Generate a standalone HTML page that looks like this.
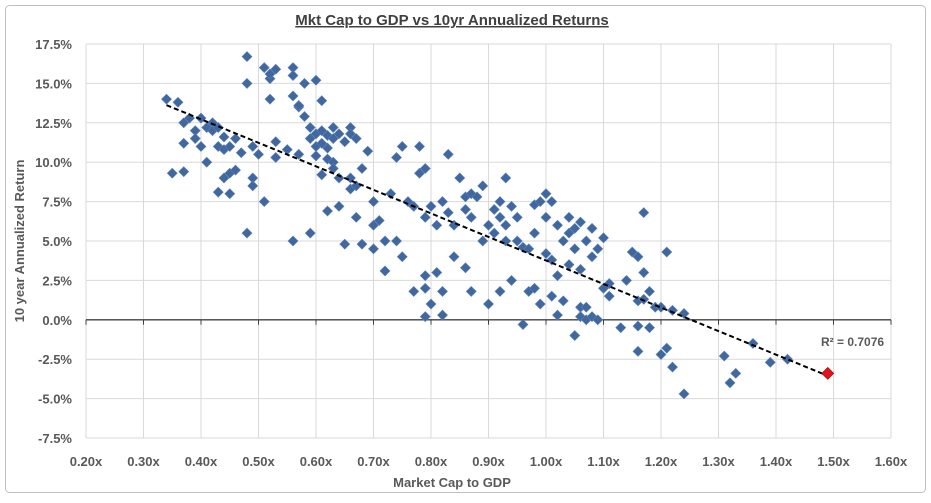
<!DOCTYPE html>
<html><head><meta charset="utf-8"><style>
body{margin:0;background:#fff;width:931px;height:498px;overflow:hidden;font-family:"Liberation Sans",sans-serif}
</style></head><body>
<svg width="931" height="498" xmlns="http://www.w3.org/2000/svg">
<rect x="5.5" y="5.5" width="920" height="487" rx="4" fill="#fff" stroke="#bfbfbf"/>
<text x="452" y="25" text-anchor="middle" font-size="15" font-weight="bold" fill="#404040" text-decoration="underline">Mkt Cap to GDP vs 10yr Annualized Returns</text>
<g id="grid"></g><g id="axes"></g><g id="pts"></g>
<text x="452" y="487" text-anchor="middle" font-size="13" font-weight="bold" fill="#595959">Market Cap to GDP</text>
<text transform="translate(24,241) rotate(-90)" text-anchor="middle" font-size="13" font-weight="bold" fill="#595959">10 year Annualized Return</text>
<text x="821" y="346" font-size="12" font-weight="bold" fill="#595959">R² = 0.7076</text>
</svg>
<script>
const xTicks=[0.2,0.3,0.4,0.5,0.6,0.7,0.8,0.9,1.0,1.1,1.2,1.3,1.4,1.5,1.6];
const yTicks=[17.5,15,12.5,10,7.5,5,2.5,0,-2.5,-5,-7.5];
const xVals=[0.34,0.36,0.35,0.37,0.37,0.38,0.37,0.39,0.39,0.40,0.40,0.41,0.41,0.42,0.42,0.43,0.43,0.44,0.44,0.45,0.45,0.43,0.44,0.45,0.46,0.46,0.47,0.48,0.48,0.48,0.49,0.49,0.49,0.50,0.51,0.51,0.52,0.52,0.52,0.53,0.53,0.53,0.55,0.56,0.56,0.56,0.56,0.57,0.57,0.57,0.58,0.58,0.59,0.59,0.59,0.60,0.60,0.60,0.60,0.61,0.61,0.61,0.61,0.62,0.62,0.62,0.63,0.63,0.63,0.63,0.62,0.64,0.64,0.64,0.65,0.65,0.66,0.66,0.66,0.66,0.67,0.67,0.67,0.68,0.68,0.69,0.70,0.70,0.70,0.71,0.72,0.72,0.73,0.74,0.74,0.75,0.75,0.76,0.77,0.77,0.78,0.78,0.79,0.79,0.79,0.79,0.79,0.80,0.80,0.81,0.81,0.82,0.82,0.82,0.83,0.83,0.84,0.84,0.85,0.86,0.86,0.86,0.87,0.87,0.87,0.88,0.89,0.89,0.90,0.90,0.91,0.91,0.92,0.92,0.92,0.93,0.93,0.93,0.94,0.94,0.95,0.95,0.96,0.96,0.97,0.97,0.98,0.98,0.98,0.99,0.99,1.00,1.00,1.00,1.01,1.01,1.01,1.02,1.02,1.02,1.03,1.03,1.04,1.04,1.04,1.05,1.05,1.05,1.06,1.06,1.06,1.06,1.07,1.07,1.07,1.08,1.08,1.08,1.09,1.09,1.10,1.10,1.11,1.11,1.13,1.14,1.15,1.16,1.16,1.16,1.16,1.17,1.17,1.17,1.18,1.18,1.19,1.20,1.20,1.21,1.21,1.22,1.22,1.24,1.24,1.31,1.32,1.33,1.36,1.39,1.42];
const yVals=[14.0,13.8,9.3,9.4,12.5,12.8,11.2,12.0,11.5,12.8,11.0,12.2,10.0,12.5,12.0,12.2,11.0,10.8,11.6,11.0,8.0,8.1,9.0,9.3,11.5,9.5,10.6,16.7,15.0,5.5,9.0,8.5,11.0,10.5,7.5,16.0,15.3,14.0,15.6,11.3,10.3,15.9,10.8,16.0,15.5,14.2,5.0,13.5,13.6,10.5,15.0,12.9,5.5,12.2,11.5,15.2,11.8,11.0,10.4,13.9,12.0,11.2,9.2,11.7,10.2,10.9,12.2,11.5,10.0,9.6,6.9,11.8,9.0,7.2,11.3,4.8,12.2,11.8,9.0,8.3,11.5,8.5,6.5,9.6,4.8,10.7,7.5,6.0,4.5,6.3,5.0,3.1,8.0,10.3,5.0,11.0,4.0,7.5,7.2,1.8,9.3,11.0,9.6,6.5,2.8,2.0,0.2,1.0,7.2,3.0,6.0,1.8,0.3,7.5,10.5,6.8,6.0,4.0,9.0,3.3,7.0,7.8,8.0,1.8,6.5,7.8,5.0,8.5,6.0,1.0,7.0,5.5,6.5,7.5,1.8,9.0,5.0,6.0,2.5,7.2,6.5,5.0,4.6,-0.3,1.8,4.5,7.3,5.5,2.0,7.5,1.0,8.0,6.5,4.2,7.5,3.8,1.5,6.0,2.8,0.3,5.0,1.2,6.5,5.5,3.5,4.5,5.8,-1.0,0.8,0.2,6.2,3.2,0.8,0.0,5.0,4.0,5.8,0.2,4.5,0.0,5.2,2.0,1.5,2.3,-0.5,2.5,4.3,4.0,1.2,-0.4,-2.0,6.8,3.0,1.3,1.8,-0.5,0.8,-2.2,0.8,4.3,-1.8,-3.0,0.6,0.4,-4.7,-2.3,-4.0,-3.4,-1.5,-2.7,-2.5];
const currentX=[1.49];
const currentY=[-3.4];
const L=86,R=891,T=44,B=438,NS="http://www.w3.org/2000/svg";
const sx=v=>L+(v-0.2)/1.4*(R-L);
const sy=v=>T+(17.5-v)/25*(B-T);
function mk(tag,attrs,parent){const e=document.createElementNS(NS,tag);for(const k in attrs)e.setAttribute(k,attrs[k]);parent.appendChild(e);return e;}
const grid=document.getElementById('grid'),axes=document.getElementById('axes'),pts=document.getElementById('pts');
xTicks.forEach(t=>{
  const g=mk('line',{x1:sx(t),x2:sx(t),y1:T,y2:B,stroke:'#d9d9d9'},grid);
  
  
  const tk=mk('line',{x1:sx(t),x2:sx(t),y1:sy(0),y2:sy(0)+5,stroke:'#404040'},axes);
  const lb=mk('text',{x:sx(t),y:466,'text-anchor':'middle','font-size':13,'font-weight':'bold',fill:'#595959'},axes);
  lb.textContent=t.toFixed(2)+'x';
  
  
});
yTicks.forEach(t=>{
  const g=mk('line',{x1:L,x2:R,y1:sy(t),y2:sy(t),stroke:t===0?'#404040':'#d9d9d9','stroke-width':t===0?1.3:1},grid);
  
  
  const lb=mk('text',{x:72,y:sy(t)+5,'text-anchor':'end','font-size':13,'font-weight':'bold',fill:'#595959'},axes);
  lb.textContent=t.toFixed(1)+'%';
  
  
});
const allX=xVals.concat(currentX),allY=yVals.concat(currentY);
const n=allX.length;let mx=0,my=0;allX.forEach((v,i)=>{mx+=v;my+=allY[i];});mx/=n;my/=n;
let sxy=0,sxx=0;allX.forEach((v,i)=>{sxy+=(v-mx)*(allY[i]-my);sxx+=(v-mx)*(v-mx);});
const slope=sxy/sxx,icp=my-slope*mx;
const x0=Math.min(...allX),x1=Math.max(...allX);
const d=(x,y,c,s)=>`M${x},${y-s}L${x+s},${y}L${x},${y+s}L${x-s},${y}Z`;
xVals.forEach((v,i)=>{
  const p=mk('path',{d:d(sx(v),sy(yVals[i]),0,5),fill:'#41679f',stroke:'#5b7fb8','stroke-width':0.6},pts);
  
  
});
const tl=mk('line',{x1:sx(x0),y1:sy(slope*x0+icp),x2:sx(x1),y2:sy(slope*x1+icp),stroke:'#000','stroke-width':2,'stroke-dasharray':'5,3'},pts);


currentX.forEach((v,i)=>{
  const p=mk('path',{d:d(sx(v),sy(currentY[i]),0,6),fill:'#e0141e',stroke:'#a00','stroke-width':0.6},pts);
  
  
});
</script>
</body></html>
